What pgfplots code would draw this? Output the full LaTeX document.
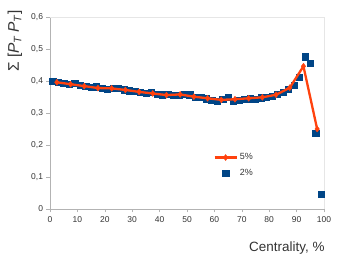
\documentclass[border=0pt]{standalone}
\usepackage{pgfplots}
\pgfplotsset{compat=1.18}
\usepackage{fontspec}
\setmainfont{Liberation Sans}
\definecolor{lblue}{HTML}{004586}
\definecolor{lorange}{HTML}{FF420E}
\definecolor{axgray}{HTML}{B3B3B3}
\definecolor{bordergray}{HTML}{E6E6E6}
\definecolor{txtgray}{HTML}{333333}
\begin{document}
\begin{tikzpicture}
\useasboundingbox (-50bp,-50bp) rectangle (288bp,209bp);
\begin{axis}[
  at={(0,0)}, anchor=south west,
  scale only axis, width=274bp, height=192bp,
  xmin=0, xmax=100, ymin=0, ymax=0.6,
  xtick={0,10,...,100}, ytick={0,0.1,0.2,0.3,0.4,0.5,0.6},
  axis x line*=bottom, axis y line*=left,
  axis line style={axgray, line width=0.8pt},
  tick style={axgray, line width=0.6pt},
  tick align=outside, major tick length=3.5bp,
  x tick label style={font=\fontsize{8.5}{10}\selectfont, text=txtgray},
  y tick label style={font=\fontsize{8.5}{10}\selectfont, text=txtgray},
  /pgf/number format/assume math mode=true,
  /pgf/number format/use comma,
  /pgf/number format/fixed,
  /pgf/number format/precision=1,
  xticklabel style={yshift=-1bp},
  legend style={draw=none, fill=none, at={(rel axis cs:0.585,0.31)}, anchor=north west,
    font=\fontsize{9}{11}\selectfont, text=txtgray, row sep=4bp},
  legend cell align=left,
  reverse legend,
  clip=false,
  clip marker paths=true,
]
\draw[bordergray, line width=0.8pt] (rel axis cs:0,1) -- (rel axis cs:1,1) -- (rel axis cs:1,0);
\addplot[only marks, mark=square*, mark size=3.1bp, color=lblue, mark options={fill=lblue, draw=lblue},
  legend image code/.code={\draw[mark=square*, mark size=3.1bp] plot coordinates {(11bp,0)};}] coordinates {
(1,0.400) (3,0.396) (5,0.393) (7,0.390) (9,0.392) (11,0.387) (13,0.383) (15,0.380)
(17,0.382) (19,0.377) (21,0.375) (23,0.377) (25,0.378) (27,0.373) (29,0.370) (31,0.368)
(33,0.365) (35,0.363) (37,0.365) (39,0.360) (41,0.357) (43,0.360) (45,0.356) (47,0.355)
(49,0.360) (51,0.357) (53,0.350) (55,0.350) (57,0.345) (59,0.341) (61,0.338) (63,0.342)
(65,0.350) (67,0.338) (69,0.340) (71,0.342) (73,0.345) (75,0.344) (77,0.348) (79,0.350)
(81,0.353) (83,0.358) (85,0.365) (87,0.375) (89,0.387) (91,0.413) (93,0.476) (95,0.455)
(97,0.236) (99,0.047)
};
\addlegendentry{2\%}
\addplot[color=lorange, line width=2.3bp, mark=diamond*, mark size=3bp, mark options={fill=lorange, draw=lorange, line width=0.4pt},
  legend image code/.code={\draw[mark repeat=2, mark phase=2] plot coordinates {(0,0) (11bp,0) (22bp,0)};}] coordinates {
(2.5,0.396) (7.5,0.390) (12.5,0.384) (17.5,0.378) (22.5,0.377) (27.5,0.372) (32.5,0.366)
(37.5,0.361) (42.5,0.356) (47.5,0.358) (52.5,0.351) (57.5,0.346) (62.5,0.341) (67.5,0.343)
(72.5,0.346) (77.5,0.349) (82.5,0.357) (87.5,0.379) (92.5,0.446) (97.5,0.250)
};
\addlegendentry{5\%}
\node[rotate=90, font=\fontsize{15.5}{18}\selectfont, text=txtgray] at ([xshift=-35bp]rel axis cs:0,0.875)
  {Σ [\textit{P}\textsubscript{\textit{T}}\,\textit{P}\textsubscript{\textit{T}}]};
\node[anchor=east, font=\fontsize{13.5}{16}\selectfont, text=txtgray] at ([xshift=4bp, yshift=-39bp]rel axis cs:1,0)
  {Centrality, \%};
\end{axis}
\end{tikzpicture}
\end{document}
